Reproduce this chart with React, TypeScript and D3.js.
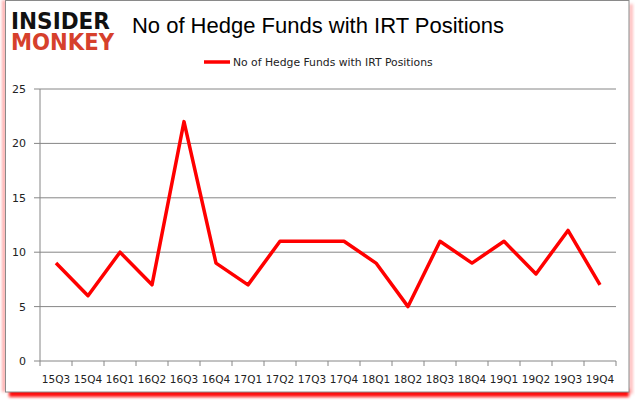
import React from "react";
import * as d3 from "d3";

const quarters = ["15Q3", "15Q4", "16Q1", "16Q2", "16Q3", "16Q4", "17Q1", "17Q2", "17Q3", "17Q4", "18Q1", "18Q2", "18Q3", "18Q4", "19Q1", "19Q2", "19Q3", "19Q4"];
const funds = [9, 6, 10, 7, 22, 9, 7, 11, 11, 11, 9, 5, 11, 9, 11, 8, 12, 7];
const yTicks = [0, 5, 10, 15, 20, 25];
const seriesName = "No of Hedge Funds with IRT Positions";

const W = 635;
const H = 405;

export default function App() {
  const x = d3.scaleBand<string>().domain(quarters).range([40, 616]);
  const y = d3.scaleLinear().domain([0, 25]).range([361, 89]);
  const line = d3
    .line<number>()
    .x((_, i) => (x(quarters[i]) as number) + x.bandwidth() / 2)
    .y((d) => y(d));

  const gridColor = "#868686";
  const font = "'DejaVu Sans', sans-serif";

  return (
    <div style={{ position: "absolute", left: 0, top: 0 }}>
      <svg width={W} height={H} style={{ display: "block" }}>
        <defs>
          <filter id="sh" x="-10%" y="-50%" width="120%" height="200%">
            <feGaussianBlur stdDeviation="1.8" />
          </filter>
          <filter id="sh2" x="-50%" y="-10%" width="200%" height="120%">
            <feGaussianBlur stdDeviation="1.5" />
          </filter>
        </defs>
        <rect x={0} y={0} width={W} height={H} fill="#fff" />
        {/* frame with red shadow */}
        <rect x={2} y={0} width={4} height={392} fill="#ffb0b0" filter="url(#sh2)" />
        <rect x={629} y={4} width={4} height={390} fill="#ffc0c0" filter="url(#sh2)" />
        <rect x={9} y={389} width={620} height={8} fill="#ff1010" filter="url(#sh)" />
        <rect x={5.5} y={0.5} width={623.5} height={391.5} fill="#fff" stroke="#8a8a8a" strokeWidth={1} />

        {/* logo */}
        <text x={11} y={29} fontFamily="'DejaVu Sans', sans-serif" fontWeight={900} fontSize={23} fill="#111" textLength={99} lengthAdjust="spacingAndGlyphs">INSIDER</text>
        <text x={11} y={50} fontFamily="'DejaVu Sans', sans-serif" fontWeight={900} fontSize={23} fill="#d6402c" textLength={103} lengthAdjust="spacingAndGlyphs">MONKEY</text>

        {/* title */}
        <text x={318} y={33} textAnchor="middle" fontFamily="'Liberation Sans', Arial, sans-serif" fontSize={22} fill="#000">{seriesName}</text>

        {/* legend */}
        <line x1={204} x2={230} y1={62} y2={62} stroke="#ff0000" strokeWidth={3.5} />
        <text x={233} y={66} fontFamily={font} fontSize={10.8} fill="#222">{seriesName}</text>

        {/* grid */}
        {yTicks.map((t) => (
          <g key={t}>
            <line x1={34} x2={616} y1={y(t)} y2={y(t)} stroke={gridColor} strokeWidth={1} />
            <text x={26} y={y(t) + 4} textAnchor="end" fontFamily={font} fontSize={11} fill="#222">{t}</text>
          </g>
        ))}
        <line x1={40} x2={40} y1={y(25)} y2={y(0) + 5} stroke={gridColor} />
        {quarters.map((q) => (
          <g key={q}>
            <line x1={(x(q) as number) + x.bandwidth()} x2={(x(q) as number) + x.bandwidth()} y1={y(0)} y2={y(0) + 5} stroke={gridColor} />
            <text x={(x(q) as number) + x.bandwidth() / 2} y={383} textAnchor="middle" fontFamily={font} fontSize={10.5} fill="#222">{q}</text>
          </g>
        ))}

        <path d={line(funds) || ""} fill="none" stroke="#ff0000" strokeWidth={3.5} strokeLinejoin="round" />
      </svg>
    </div>
  );
}
